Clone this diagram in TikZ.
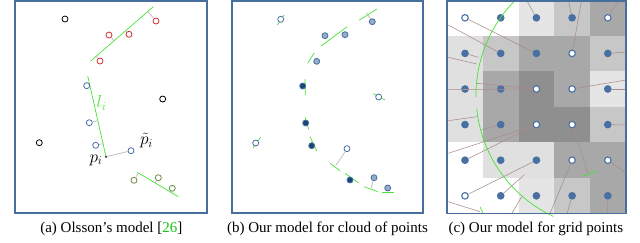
\documentclass[tikz,border=0pt]{standalone}
\usepackage{amsmath,amssymb}
\usepackage{fontspec}
\setmainfont{Liberation Serif}
\usepackage{tikz}
\usetikzlibrary{positioning, calc}
\usepackage{xcolor}

\definecolor{framecol}{RGB}{72,110,158}
\definecolor{fitgreen}{RGB}{70,228,50}
\definecolor{ptblue}{RGB}{72,112,162}
\definecolor{ptred}{RGB}{205,45,45}
\definecolor{ptolive}{RGB}{100,140,70}
\definecolor{ptlight}{RGB}{150,172,200}
\definecolor{ptdark}{RGB}{28,68,118}
\definecolor{linkgray}{RGB}{195,190,190}
\definecolor{linkbrown}{RGB}{170,140,140}
\definecolor{citegreen}{RGB}{20,200,20}

\begin{document}
\begin{tikzpicture}[x=1pt, y=-1pt,
        obs/.style={circle, draw, fill=white, inner sep=0pt, minimum size=6pt, line width=0.8pt},
        fitline/.style={draw=fitgreen, line width=0.7pt},
        link/.style={draw=linkgray, line width=0.8pt},
        proj/.style={draw=linkbrown, line width=0.55pt},
        panel/.style={draw=framecol, line width=1.4pt},
        caption/.style={anchor=base, font=\fontsize{15}{17}\selectfont},
        mathlabel/.style={inner sep=0.5pt, font=\fontsize{17}{19}\selectfont}]

    \useasboundingbox (0,0) rectangle (640,242);

    % --- (a) Olsson's model ---
    \node[obs, draw=black] (k1) at (65,19) {};
    \node[obs, draw=black] (k2) at (162.7,99) {};
    \node[obs, draw=black] (k3) at (39.3,142.7) {};

    % red group
    \coordinate (ra) at (153.3,6.7);
    \coordinate (rb) at (90.7,61);
    \draw[fitline] (ra) -- (rb);
    \foreach \n/\x/\y in {r1/156/21, r2/109/35, r3/129/34.3, r4/100/61} {
        \node[obs, draw=ptred] (\n) at (\x,\y) {};
        \coordinate (\n-f) at ($(ra)!(\n)!(rb)$);
        \draw[link] (\n) -- (\n-f);
    }

    % blue group
    \coordinate (la) at (87.7,76);
    \node[circle, fill=black, inner sep=0.8pt] (pi) at (106,156.7) {};
    \draw[fitline] (la) -- (pi.center);
    \node[obs, draw=ptblue] (b1) at (86.7,85.7) {};
    \foreach \n/\x/\y in {b2/89.3/122.7, b3/95.7/145.3} {
        \node[obs, draw=ptblue] (\n) at (\x,\y) {};
        \coordinate (\n-f) at ($(la)!(\n)!(pi)$);
        \draw[link] (\n) -- (\n-f);
    }
    \node[obs, draw=ptblue] (pt) at (131,150.7) {};
    \draw[link] (pi) -- (pt);
    \node[mathlabel, text=fitgreen] (li) at (101.5,103) {$l_i$};
    \node[mathlabel] (plab) at (96,160) {$p_i$};
    \node[mathlabel] (ptlab) at (146.5,141) {$\tilde{p}_i$};

    % olive group
    \coordinate (oa) at (137.3,172.3);
    \coordinate (ob) at (178.3,196.7);
    \draw[fitline] (oa) -- (ob);
    \foreach \n/\x/\y in {o1/134/180.3, o2/158.3/177.7, o3/172.3/188.3} {
        \node[obs, draw=ptolive] (\n) at (\x,\y) {};
        \coordinate (\n-f) at ($(oa)!(\n)!(ob)$);
        \draw[link] (\n) -- (\n-f);
    }
    \draw[panel] (15,1) rectangle (207,213);

    % --- (b) cloud of points ---
    \foreach \ax/\ay/\bx/\by in {277.3/25/284/15, 321/46/347.3/26.7, 359.3/20/376.7/9.3,
            307.7/63.3/314.3/52.7, 305/79/305.3/95, 373.3/93.7/385/100, 305/117.3/308.7/129.3,
            253.3/147.7/260.7/137, 310/136.7/316.7/151, 330/163.3/340/170.7,
            345/173.3/358.3/182.7, 364.3/186.7/377.7/191.7, 381.7/192.3/394/192.3}
        \draw[fitline] (\ax,\ay) -- (\bx,\by);
    \coordinate (q4-f) at (366.5,12.8);
    \coordinate (q11-f) at (335.7,165.7);
    \coordinate (q13-f) at (371,188.3);
    \foreach \n/\x/\y/\f in {q1/280.7/19.3/white, q2/325/35.7/ptlight, q3/345/34.7/ptlight,
            q4/372.3/21.7/ptlight, q5/316.7/61.3/ptlight, q6/302.7/86/ptdark,
            q7/378.7/97/white, q8/305.7/123/ptdark, q9/255.7/143/white,
            q10/311.7/145.7/ptdark, q11/347/148.7/white, q12/350/180/ptdark,
            q13/374/177.7/ptlight, q14/387.7/188/ptlight}
        \node[obs, draw=ptblue, fill=\f] (\n) at (\x,\y) {};
    \draw[link] (q4) -- (q4-f);
    \draw[link] (q11) -- (q11-f);
    \draw[link] (q13) -- (q13-f);
    \draw[panel] (232,1) rectangle (423,213);

    % --- (c) grid points ---
    \foreach \line [count=\r from 0] in {{0/1,0/0,10/0,22/0,34/1},{12/0,22/0,34/0,34/1,22/0},
            {12/0,34/0,44/1,34/1,10/0},{12/0,34/0,44/1,44/1,22/0},
            {0/0,12/0,12/0,34/1,34/1},{0/1,0/0,10/0,22/0,34/0}} {
        \foreach \v/\h [count=\c from 0] in \line {
            \fill[black!\v] (447+35.8*\c,35.6*\r) rectangle ++(35.8,35.6);
            \def\fc{ptblue}\ifnum\h=1 \def\fc{white}\fi
            \node[obs, draw=ptblue, fill=\fc, line width=1.1pt, minimum size=6.5pt] (g-\r-\c) at (465+35.7*\c,17.8+35.6*\r) {};
        }
    }
    \foreach \p/\x/\y [count=\i] in {0-2/526.5/0, 0-3/568.3/0, 1-3/581.7/0, 0-4/618.3/0,
            1-1/448.3/25, 1-0/478.3/57.3, 2-2/448.3/89.6, 2-2/476.7/83.3, 2-3/626/80,
            2-4/626/89, 1-4/626/52, 3-2/448.3/153.3, 3-1/481.7/130, 3-3/588.3/174.7,
            3-4/626/125, 4-4/626/173, 4-3/550/213.6, 5-3/567/213.6, 5-4/607.6/213.6,
            5-1/524/175} {
        \coordinate (e\i) at (\x,\y);
        \draw[proj] (g-\p) -- (e\i);
    }
    \draw[proj] (g-0-0) -- (g-1-2);
    \draw[proj] (g-4-0) -- (g-3-2);
    \draw[proj] (g-5-0) -- (g-4-2);
    % lines of points outside the window
    \foreach \ax/\ay/\bx/\by [count=\i] in {448.3/57.3/476.7/64, 448.3/120.7/476.7/116.7,
            448.3/201.7/480/211.7, 511.7/213.6/521.7/196.7} {
        \coordinate (s\i) at (\ax,\ay);
        \coordinate (t\i) at (\bx,\by);
        \draw[proj] (s\i) -- (t\i);
    }
    % fitted arc
    \draw[fitline] (610,95) ++(226:134) arc[start angle=226, end angle=179, radius=134];
    \draw[fitline] (610,95) ++(174:134) arc[start angle=174, end angle=115, radius=134];
    \draw[fitline] (480,206.7) -- (483,213.6);
    \draw[fitline] (583,176) -- (597,171);
    \draw[panel] (447,1) rectangle (626,213.6);

    % --- Captions ---
    \node[caption] (capa) at (111.3,232) {(a) Olsson's model [\textcolor{citegreen}{26}]};
    \node[caption] (capb) at (327.5,232) {(b) Our model for cloud of points};
    \node[caption] (capc) at (535.8,232) {(c) Our model for grid points};

\end{tikzpicture}
\end{document}
